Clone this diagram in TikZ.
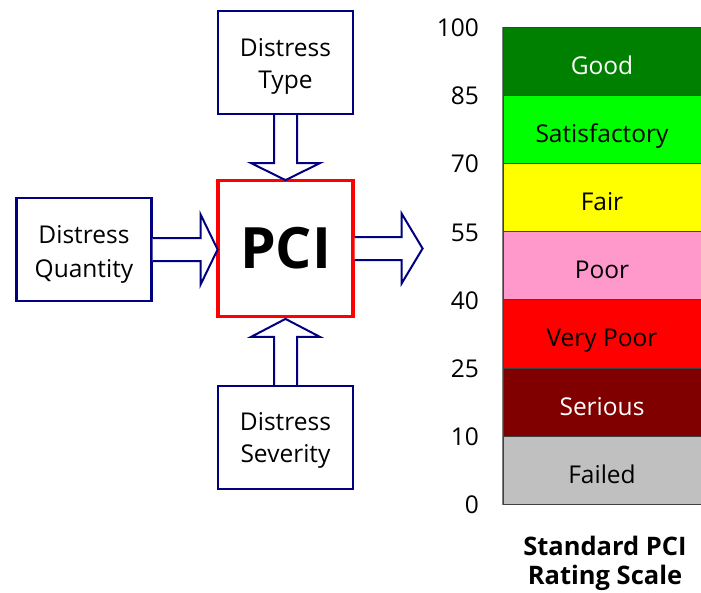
\documentclass[tikz,border=0pt]{standalone}
\usepackage{fontspec}
\setmainfont{Open Sans}
\usetikzlibrary{calc}
\definecolor{navy}{RGB}{0,0,128}
\definecolor{cgood}{RGB}{0,128,0}
\definecolor{csat}{RGB}{0,255,0}
\definecolor{cfair}{RGB}{255,255,0}
\definecolor{cpoor}{RGB}{255,153,204}
\definecolor{cvpoor}{RGB}{255,0,0}
\definecolor{cser}{RGB}{128,0,0}
\definecolor{cfail}{RGB}{192,192,192}
\begin{document}
\begin{tikzpicture}[x=1pt,y=-1pt,
  inbox/.style={draw=navy,line width=2.2pt,minimum width=135pt,minimum height=103pt,inner sep=0pt},
  boxtext/.style={align=center,inner sep=0pt,font=\fontsize{24.5}{32}\selectfont},
  pcibox/.style={draw=red,line width=3.2pt,fill=white,minimum width=135pt,minimum height=136pt,inner sep=0pt,font=\bfseries\fontsize{57}{64}\selectfont},
  arr/.style={draw=navy,line width=2pt,fill=white,line join=miter},
  band/.style={draw=black!75,line width=0.8pt,minimum width=198pt,minimum height=68.2pt,inner sep=0pt,text height=32pt,text depth=6pt,font=\fontsize{24.5}{28}\selectfont},
  tick/.style={anchor=east,inner sep=0pt,font=\fontsize{24.5}{28}\selectfont}]
\useasboundingbox (0,0) rectangle (701,592);
\node[inbox,label={[boxtext,yshift=-3.5pt]center:Distress\\Type}] (type) at (285.5,62.5) {};
\node[inbox,label={[boxtext,yshift=-5pt,font=\fontsize{24.5}{34}\selectfont]center:Distress\\Quantity}] (qty) at (84,249.5) {};
\node[inbox,label={[boxtext,yshift=-3pt]center:Distress\\Severity}] (sev) at (285.5,437.5) {};
\node[pcibox] (pci) at (285.5,248.5) {PCI};
% block arrows
\draw[arr,shift={(type.south)},rotate=-90] (0pt,11.5pt) -- (48pt,11.5pt) -- (48pt,34.5pt) -- (65pt,0pt) -- (48pt,-34.5pt) -- (48pt,-11.5pt) -- (0pt,-11.5pt);
\draw[arr,shift={(sev.north)},rotate=90] (0pt,11.5pt) -- (48pt,11.5pt) -- (48pt,34.5pt) -- (66pt,0pt) -- (48pt,-34.5pt) -- (48pt,-11.5pt) -- (0pt,-11.5pt);
\draw[arr,shift={(qty.east)}] (0pt,11.5pt) -- (48pt,11.5pt) -- (48pt,35pt) -- (65pt,0pt) -- (48pt,-35pt) -- (48pt,-11.5pt) -- (0pt,-11.5pt);
\draw[arr,shift={(pci.east)}] (0pt,11.5pt) -- (47pt,11.5pt) -- (47pt,35pt) -- (68pt,0pt) -- (47pt,-35pt) -- (47pt,-11.5pt) -- (0pt,-11.5pt);
% rating scale
\node[band,fill=cgood,text=white] (good) at (602,61.1) {Good};
\node[band,fill=csat] (sat) at (602,129.3) {Satisfactory};
\node[band,fill=cfair] (fair) at (602,197.5) {Fair};
\node[band,fill=cpoor] (poor) at (602,265.7) {Poor};
\node[band,fill=cvpoor] (vpoor) at (602,333.9) {Very Poor};
\node[band,fill=cser,text=white] (ser) at (602,402.1) {Serious};
\node[band,fill=cfail] (fail) at (602,470.3) {Failed};
\draw[gray,line width=1pt] (good.north west) -- (fail.south west);
\node[tick] (t100) at (479,28) {100};
\node[tick] (t85) at (479,96) {85};
\node[tick] (t70) at (479,164) {70};
\node[tick] (t55) at (479,233) {55};
\node[tick] (t40) at (479,301) {40};
\node[tick] (t25) at (479,369) {25};
\node[tick] (t10) at (479,437) {10};
\node[tick] (t0) at (479,505) {0};
\node[align=center,inner sep=0pt,font=\bfseries\fontsize{25.5}{29}\selectfont] (title) at (605,563) {Standard PCI\\Rating Scale};
\end{tikzpicture}
\end{document}
